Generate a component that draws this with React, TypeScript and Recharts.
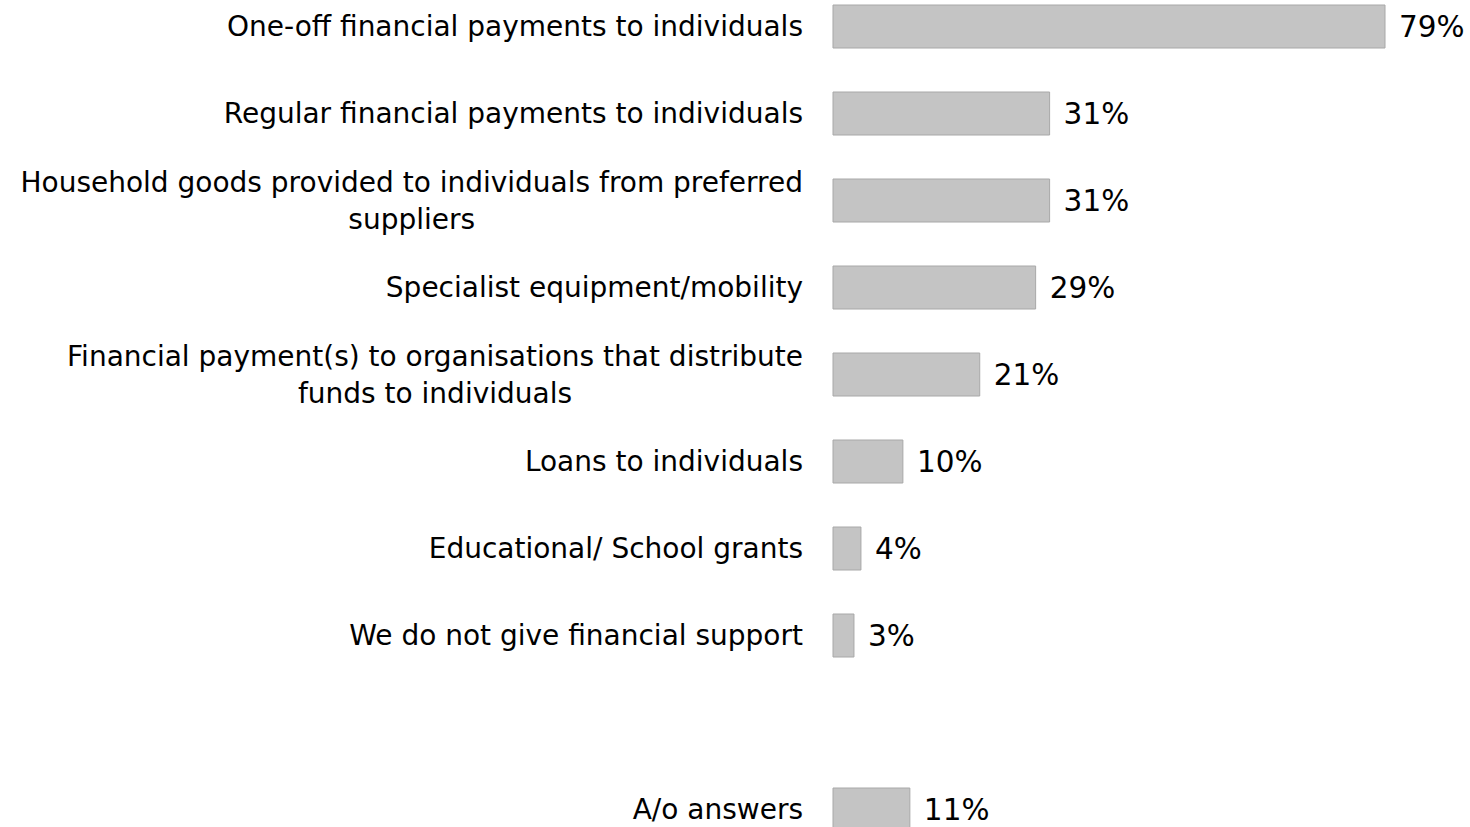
import React from "react";
import { BarChart, Bar, XAxis, YAxis, LabelList } from "recharts";

const categories = [
  "One-off financial payments to individuals",
  "Regular financial payments to individuals",
  "Household goods provided to individuals from preferred|suppliers",
  "Specialist equipment/mobility",
  "Financial payment(s) to organisations that distribute|funds to individuals",
  "Loans to individuals",
  "Educational/ School grants",
  "We do not give financial support",
  "",
  "A/o answers",
];

const values: (number | null)[] = [79, 31, 31, 29, 21, 10, 4, 3, null, 11];

const data = categories.map((name, i) => ({ name, value: values[i] }));

const FONT = "'DejaVu Sans', sans-serif";
const FONT_SIZE = 28;

let canvas: HTMLCanvasElement | null = null;
function textWidth(s: string) {
  if (!canvas) canvas = document.createElement("canvas");
  const ctx = canvas.getContext("2d")!;
  ctx.font = `${FONT_SIZE}px ${FONT}`;
  return ctx.measureText(s).width;
}

function CategoryTick(props: any) {
  const { x, y, payload } = props;
  const lines: string[] = String(payload.value).split("|");
  if (lines.length === 1) {
    return (
      <text x={x} y={y} dy="0.35em" textAnchor="end" fill="#000" fontFamily={FONT} fontSize={FONT_SIZE}>
        {lines[0]}
      </text>
    );
  }
  const w = Math.max(...lines.map(textWidth));
  const cx = x - w / 2;
  return (
    <text textAnchor="middle" fill="#000" fontFamily={FONT} fontSize={FONT_SIZE}>
      {lines.map((l, i) => (
        <tspan key={i} x={cx} y={y + (i - (lines.length - 1) / 2) * 37} dy="0.35em">
          {l}
        </tspan>
      ))}
    </text>
  );
}

function ValueLabel(props: any) {
  const { x, y, width, height, value } = props;
  if (value == null) return null;
  return (
    <text x={x + width + 14} y={y + height / 2} dy="0.36em" fill="#000" fontFamily={FONT} fontSize={29.5}>
      {`${value}%`}
    </text>
  );
}

export default function App() {
  return (
    <div style={{ position: "absolute", left: 0, top: 0, width: 1470, height: 827, overflow: "hidden", background: "#fff" }}>
      <div style={{ position: "absolute", left: 0, top: -17 }}>
        <BarChart
          width={1470}
          height={870}
          data={data}
          layout="vertical"
          margin={{ top: 0, right: 78, bottom: 0, left: 0 }}
          barSize={43}
        >
          <XAxis type="number" domain={[0, 80]} hide />
          <YAxis
            type="category"
            dataKey="name"
            width={833}
            axisLine={false}
            tickLine={false}
            tickSize={0}
            tickMargin={30}
            interval={0}
            tick={<CategoryTick />}
          />
          <Bar dataKey="value" fill="#c4c4c4" stroke="#a8a8a8" strokeWidth={1} isAnimationActive={false}>
            <LabelList dataKey="value" content={<ValueLabel />} />
          </Bar>
        </BarChart>
      </div>
    </div>
  );
}
